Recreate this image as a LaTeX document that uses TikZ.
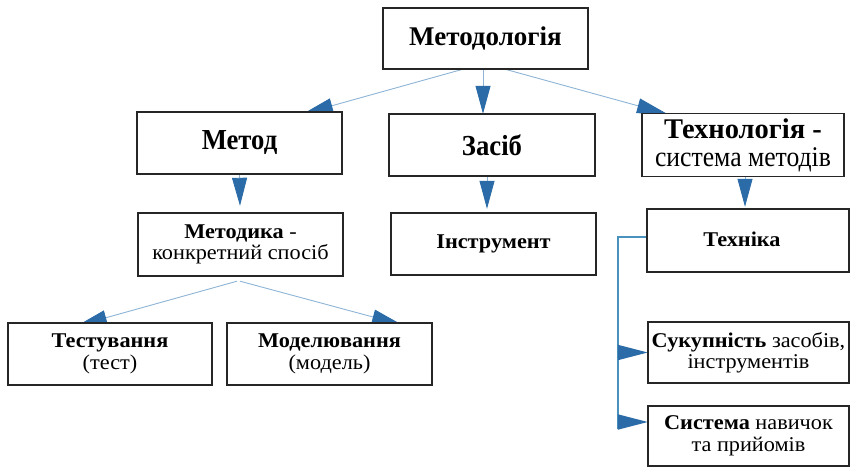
\documentclass[tikz,border=0pt]{standalone}
\usepackage{fontspec}
\setmainfont{Liberation Serif}
\newfontfamily\condfont[FakeStretch=0.92]{Liberation Serif}
\newfontfamily\narrowfont[FakeStretch=0.9]{Liberation Serif}
\newfontfamily\widefont[FakeStretch=1.06]{Liberation Serif}
\usetikzlibrary{arrows.meta,calc}
\definecolor{lineblue}{HTML}{8DB4D6}
\definecolor{tipblue}{HTML}{2B6CA8}
\definecolor{brblue}{HTML}{4A92BE}
\tikzset{
  box/.style={draw=black!85, line width=1.6pt, fill=white, inner sep=0pt, align=center},
  lowtext/.style={font=\widefont\fontsize{21}{21.5}\selectfont},
  conn/.style={draw=lineblue, line width=0.9pt, -{Triangle[length=30pt,width=15pt,color=tipblue,fill=tipblue]}},
  vconn/.style={draw=lineblue, line width=0.9pt, -{Triangle[length=28pt,width=15pt,color=tipblue,fill=tipblue]}},
  bracket/.style={draw=brblue, line width=1.8pt},
  harrow/.style={draw=brblue, line width=1.8pt, -{Triangle[length=30pt,width=15pt,color=tipblue,fill=tipblue]}},
}
\begin{document}
\begin{tikzpicture}[x=1pt,y=-1pt]
\useasboundingbox (0,0) rectangle (852,468);
\path
  coordinate (cmeth) at (485.5,38.5)
  coordinate (cmetod) at (239.5,143)
  coordinate (czasib) at (492,145)
  coordinate (ctech) at (743,145)
  coordinate (cmetodyka) at (240.5,244.5)
  coordinate (cinstr) at (493.5,244)
  coordinate (ctekh) at (748,240.5)
  coordinate (ctest) at (110,354)
  coordinate (cmodel) at (329.5,354)
  coordinate (csukup) at (748.5,352.5)
  coordinate (csyst) at (748.5,436);
% box anchors (the visible boxes are drawn on top of the connectors below)
\path[every node/.style={inner sep=0pt}]
  node[minimum width=205pt, minimum height=61pt] (meth) at (cmeth) {}
  node[minimum width=205pt, minimum height=62pt] (metod) at (cmetod) {}
  node[minimum width=206pt, minimum height=62pt] (zasib) at (czasib) {}
  node[minimum width=202pt, minimum height=63pt] (tech) at (ctech) {}
  node[minimum width=205pt, minimum height=63pt] (metodyka) at (cmetodyka) {}
  node[minimum width=205pt, minimum height=62pt] (instr) at (cinstr) {}
  node[minimum width=202pt, minimum height=63pt] (tekh) at (ctekh) {}
  node[minimum width=204pt, minimum height=62pt] (test) at (ctest) {}
  node[minimum width=205pt, minimum height=62pt] (model) at (cmodel) {}
  node[minimum width=201pt, minimum height=61pt] (sukup) at (csukup) {}
  node[minimum width=201pt, minimum height=60pt] (syst) at (csyst) {};
% connectors
\draw[conn] ($(meth.south)+(-22.5,0)$) -- ($(metod.north)+(63.5,2)$);
\draw[vconn] ($(meth.south)+(-2.5,0)$) -- ($(zasib.north)+(-9,0)$);
\draw[conn] ($(meth.south)+(19.5,0)$) -- ($(tech.north)+(-76,0.5)$);
\draw[vconn] (metod.south) -- ($(metodyka.north)+(-0.5,-7)$);
\draw[vconn] ($(zasib.south)+(-5,0)$) -- ($(instr.north)+(-6.5,-4)$);
\draw[vconn] ($(tech.south)+(2,0)$) -- ($(tekh.north)+(-3,-2)$);
\draw[conn] ($(metodyka.south)+(-3.5,5)$) -- ($(test.north)+(-33,3)$);
\draw[conn] ($(metodyka.south)+(-0.5,5)$) -- ($(model.north)+(72.5,2)$);
\draw[bracket] ([yshift=3.5pt]tekh.west) -- ++(-29,0) coordinate (bk) -- (bk |- 0,429);
\coordinate (s2) at ([yshift=14pt]syst.west);
\draw[harrow] (bk |- sukup.west) -- (sukup.west);
\draw[harrow] (bk |- s2) -- (s2);
% visible boxes
\node[box, minimum width=205pt, minimum height=61pt, font=\bfseries\fontsize{27}{30}\selectfont] at (cmeth) {Методологія};
\node[box, minimum width=205pt, minimum height=62pt, font=\condfont\bfseries\fontsize{29}{32}\selectfont] at (cmetod) {Метод};
\node[box, minimum width=206pt, minimum height=62pt, font=\condfont\bfseries\fontsize{29}{32}\selectfont] at (czasib) {Засіб};
\node[box, minimum width=202pt, minimum height=63pt, font=\fontsize{28.5}{28}\selectfont] at (ctech)
  {\textbf{Технологія -}\\{\narrowfont\fontsize{28.5}{28}\selectfont система методів}};
\node[box, minimum width=205pt, minimum height=63pt, lowtext] at (cmetodyka) {\textbf{Методика} -\\конкретний спосіб};
\node[box, minimum width=205pt, minimum height=62pt, lowtext] at (cinstr) {\textbf{Інструмент}};
\node[box, minimum width=202pt, minimum height=63pt, lowtext] at (ctekh) {\hspace*{-12pt}\raisebox{3pt}{\textbf{Техніка}}};
\node[box, minimum width=204pt, minimum height=62pt, lowtext] at (ctest) {\textbf{Тестування}\\(тест)};
\node[box, minimum width=205pt, minimum height=62pt, lowtext] at (cmodel) {\textbf{Моделювання}\\(модель)};
\node[box, minimum width=201pt, minimum height=61pt, lowtext] at (csukup) {\textbf{Сукупність} засобів,\\інструментів};
\node[box, minimum width=201pt, minimum height=60pt, lowtext] at (csyst) {\textbf{Система} навичок\\та прийомів};
\end{tikzpicture}
\end{document}
